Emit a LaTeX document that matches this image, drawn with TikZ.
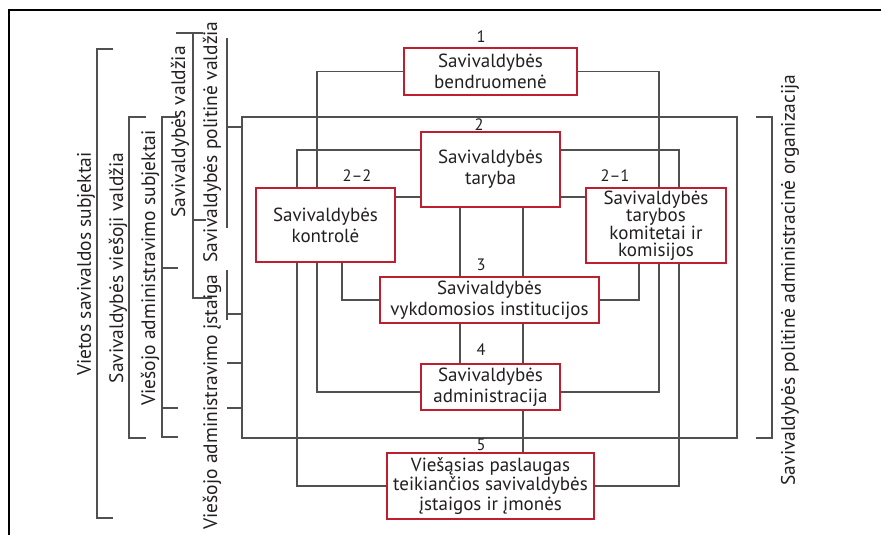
\documentclass[tikz,border=0pt]{standalone}
\usepackage{fontspec}
\setmainfont{PT Sans}
\usetikzlibrary{backgrounds}
\definecolor{boxred}{HTML}{BE1E2D}
\definecolor{linegray}{HTML}{505050}
\definecolor{ink}{HTML}{231F20}
\begin{document}
\begin{tikzpicture}[x=1pt,y=-1pt,
  box/.style={draw=boxred, line width=2.2pt, fill=white, align=center,
    inner sep=0pt, text=ink, font=\fontsize{19}{21}\selectfont},
  link/.style={draw=linegray, line width=1.2pt},
  frame/.style={draw=black, line width=2.6pt},
  num/.style={text=ink, font=\fontsize{16.5}{18}\selectfont, inner sep=0pt},
  side/.style={text=ink, font=\fontsize{19.5}{21}\selectfont, rotate=90, inner sep=0pt}]
\useasboundingbox (0,0) rectangle (881,535);

% outer frame (top and left edges)
\draw[frame] (9,535) -- (9,10) -- (881,10);

% boxes
\node[box, minimum width=173pt, minimum height=47pt] (n1) at (490.5,71.5) {Savivaldybės\\bendruomenė};
\node[box, minimum width=139pt, minimum height=75pt] (n2) at (490.5,169.5) {Savivaldybės\\taryba};
\node[box, minimum width=139pt, minimum height=74pt] (n22) at (325.5,225) {Savivaldybės\\kontrolė};
\node[box, minimum width=140pt, minimum height=75pt, font=\fontsize{19}{17.5}\selectfont] (n21) at (656,225.5) {Savivaldybės\\tarybos\\komitetai ir\\komisijos};
\node[box, minimum width=219pt, minimum height=46pt] (n3) at (489.5,300) {Savivaldybės\\vykdomosios institucijos};
\node[box, minimum width=139pt, minimum height=46pt] (n4) at (490.5,387) {Savivaldybės\\administracija};
\node[box, minimum width=207pt, minimum height=66pt, font=\fontsize{19}{19.5}\selectfont] (n5) at (490.5,486) {Viešąsias paslaugas\\teikiančios savivaldybės\\įstaigos ir įmonės};

% level numbers
\node[num] (l1) at (481,37) {1};
\node[num] (l2) at (479,125) {2};
\node[num] (l22) at (357,176) {2–2};
\node[num] (l21) at (615,176) {2–1};
\node[num] (l3) at (481,265) {3};
\node[num] (l4) at (481,350) {4};
\node[num] (l5) at (481,445) {5};

\begin{scope}[on background layer]
  % political-administrative frame
  \draw[link, line width=1.5pt] (242,117) rectangle (737,438);
  % community -- administration
  \draw[link] (n1.west) -| (317,392) -- ([yshift=-5pt]n4.west);
  \draw[link] (n1.east) -| (659,392) -- ([yshift=-5pt]n4.east);
  % council -- public service bodies
  \draw[link] (n2.west |- 0,150) -| (297,486) -- (n5.west);
  \draw[link] (n2.east |- 0,150) -| (679,486) -- (n5.east);
  % council -- control and committees
  \draw[link] (n2.west |- 0,197) -- (n22.east |- 0,197);
  \draw[link] (n2.east |- 0,197) -- (n21.west |- 0,197);
  % council -- executive -- administration -- services
  \draw[link] (n2.south -| 460,0) -- (n3.north -| 460,0);
  \draw[link] (n3.south -| 460,0) -- (n4.north -| 460,0);
  \draw[link] (n2.south -| 523,0) -- (n3.north -| 523,0);
  \draw[link] (n3.south -| 523,0) -- (n4.north -| 523,0);
  \draw[link] (n4.south -| 523,0) -- (n5.north -| 523,0);
  % control / committees -- executive
  \draw[link] (n22.south -| 342,0) |- (n3.west);
  \draw[link] (n21.south -| 639,0) |- (n3.east);
\end{scope}

% left-hand brackets
\draw[link] (113,49) -- (97,49) -- (97,518) -- (113,518);
\node[side] (s1) at (86,264) {Vietos savivaldos subjektai};
\draw[link] (146,117) -- (129,117) -- (129,438) -- (146,438);
\node[side] (s2) at (118,268) {Savivaldybės viešoji valdžia};
\draw[link] (178,117) -- (162,117) -- (162,437) -- (178,437);
\draw[link] (162,268) -- (178,268);
\draw[link] (162,408) -- (178,408);
\node[side] (s3) at (150,268) {Viešojo administravimo subjektai};
\draw[link] (176,33) -- (203,33);
\draw[link] (193,33) -- (193,298) -- (212,298);
\draw[link] (193,220) -- (206,220);
\node[side] (s4) at (180,132) {Savivaldybės valdžia};
\draw[link] (227,38) -- (227,228);
\draw[link] (227,127) -- (242,127);
\node[side] (s5) at (212,142) {Savivaldybės politinė valdžia};
\draw[link] (227,270) -- (227,320);
\draw[link] (227,314) -- (242,314);
\draw[link] (227,363) -- (242,363);
\draw[link] (227,408) -- (242,408);
\node[side] (s6) at (212,402) {Viešojo administravimo įstaiga};

% right-hand bracket
\draw[link] (756,117) -- (772,117) -- (772,438) -- (756,438);
\node[side] (s7) at (790,280) {Savivaldybės politinė administracinė organizacija};
\end{tikzpicture}
\end{document}
